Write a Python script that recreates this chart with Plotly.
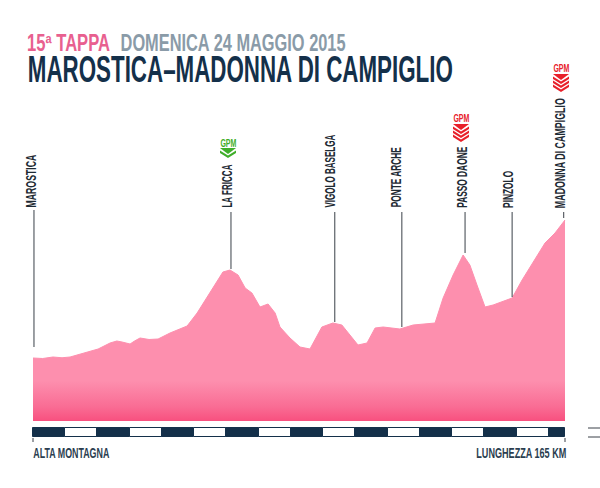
import json
import plotly.graph_objects as go

# Stage profile
km = [0, 3, 6.2, 9, 11.5, 15.5, 20.2, 23.9, 26, 27.6, 30.1, 31.5, 33.2, 36, 38.8, 42.5, 47.8, 50.9, 54, 57.1, 58.9, 61.1, 63.6,
      65.8, 67.9, 70.4, 72.9, 75.1, 76.6, 79.7, 82.8, 85.9, 87.5, 89.6, 93, 95.8, 98.3, 100.8, 103.6, 106.1,
      108.6, 113.8, 117.9, 124.7, 127.2, 130.3, 133.4, 135.5, 137.7, 140.2, 142.7, 148.6, 151.7, 155.1,
      158.8, 161.9, 164.4, 165]
elevation = [504, 500, 512, 506, 512, 544, 576, 624, 640, 632, 616, 640, 664, 652, 656, 704, 760, 864, 992, 1128, 1192, 1208, 1168,
             1064, 1024, 912, 936, 864, 752, 664, 592, 576, 648, 752, 784, 768, 688, 608, 624, 744,
             752, 736, 768, 784, 984, 1168, 1328, 1248, 1088, 912, 928, 984, 1128, 1272,
             1424, 1504, 1592, 1608]

# Named places
stops = ["MAROSTICA", "LA FRICCA", "VIGOLO BASELGA", "PONTE ARCHE", "PASSO DAONE", "PINZOLO", "MADONNA DI CAMPIGLIO"]
stop_km = [0.3, 61.4, 93.6, 114.4, 134.0, 148.6, 164.6]
stop_low = [592, 1216, 792, 752, 1344, 992, 1624]
stop_high = [1688, 1672, 1672, 1672, 1672, 1672, 1672]

# Distance scale
scale_mid = [5, 15, 25, 35, 45, 55, 65, 75, 85, 95, 105, 115, 125, 135, 145, 155, 162.5]
scale_len = [10] * 16 + [5]

W, H = 600, 488
NAVY = "#14304A"
def fx(p): return p / W
def fy(p): return 1 - p / H

fig = go.Figure()
fig.add_trace(go.Scatter(
    x=km, y=elevation, mode="lines", line=dict(color="#FD8FAE", width=1), fill="tozeroy",
    fillgradient=dict(type="vertical", start=0, stop=1608,
                      colorscale=[[0, "#F8507F"], [0.07, "#F96C94"], [0.2, "#FD8FAE"], [1, "#FD8FAE"]]),
    hoverinfo="skip", showlegend=False))

for k, lo, hi in zip(stop_km, stop_low, stop_high):
    fig.add_trace(go.Scatter(x=[k, k], y=[lo, hi], mode="lines", line=dict(color="#3A4148", width=1),
                             hoverinfo="skip", showlegend=False))
for k in [0, 165]:
    fig.add_trace(go.Scatter(x=[k, k], y=[-120, -168], mode="lines", line=dict(color="#3A4148", width=1),
                             hoverinfo="skip", showlegend=False))

fig.add_trace(go.Bar(
    x=scale_mid, y=[1] * len(scale_mid), width=scale_len, yaxis="y2",
    marker=dict(color=[NAVY if i % 2 == 0 else "#FFFFFF" for i in range(len(scale_mid))],
                line=dict(color=NAVY, width=1)),
    hoverinfo="skip", showlegend=False))

FONT = "Liberation Sans Narrow, Liberation Sans, sans-serif"
annots = []
fits = {}
def label(text, cx, cy, size, color, width, angle=0):
    annots.append(dict(text=f"<b>{text}</b>", x=fx(cx), y=fy(cy), xref="paper", yref="paper",
                       xanchor="center", yanchor="middle", showarrow=False, textangle=angle,
                       font=dict(family=FONT, size=size, color=color)))
    fits[text] = width

label("15ª TAPPA", 68.5, 43, 23, "#E8608F", 83)
label("DOMENICA 24 MAGGIO 2015", 232.5, 43, 23, "#8A9BA8", 225)
label("MAROSTICA–MADONNA DI CAMPIGLIO", 240.5, 69, 36, NAVY, 425)
label("ALTA MONTAGNA", 71, 452, 15, "#2B3E50", 76)
label("LUNGHEZZA 165 KM", 521, 452, 15, "#2B3E50", 90)
for name, cx, top, bottom in [("MAROSTICA", 31, 155, 208), ("LA FRICCA", 226, 165, 208),
                              ("VIGOLO BASELGA", 330, 135, 208), ("PONTE ARCHE", 396, 148, 208),
                              ("PASSO DAONE", 461, 147, 208), ("PINZOLO", 508, 171, 208),
                              ("MADONNA DI CAMPIGLIO", 560, 98, 208)]:
    label(name, cx, (top + bottom) / 2, 14, "#1E2A33", bottom - top, angle=-90)

shapes = []
def chevrons(cx, y, n, color, hw=8):
    pts = lambda L: "M " + " L ".join(f"{fx(a):.5f},{fy(b):.5f}" for a, b in L) + " Z"
    shapes.append(dict(type="path", xref="paper", yref="paper", fillcolor=color, line=dict(width=0),
                       path=pts([(cx - hw, y), (cx + hw, y), (cx, y + 6)])))
    for i in range(n):
        t = y + 4.5 + i * 4
        shapes.append(dict(type="path", xref="paper", yref="paper", fillcolor=color, line=dict(width=0),
                           path=pts([(cx - hw, t - 2), (cx, t + 3), (cx + hw, t - 2), (cx + hw, t + 0.5), (cx, t + 5.5), (cx - hw, t + 0.5)])))

label("GPM", 228, 143, 10, "#3FAE2A", 16)
chevrons(228, 148, 1, "#3FAE2A")
annots.append(dict(annots[-1], x=fx(461), y=fy(118), font=dict(family=FONT, size=10, color="#E8202A")))
chevrons(461, 124, 3, "#E8202A")
annots.append(dict(annots[-1], x=fx(561), y=fy(68), font=dict(family=FONT, size=10, color="#E8202A")))
chevrons(561, 74, 3, "#E8202A")

# stray marks at the right edge of the picture
for yy in (428, 437):
    shapes.append(dict(type="line", xref="paper", yref="paper", x0=fx(588), x1=fx(600), y0=fy(yy), y1=fy(yy),
                       line=dict(color="#3A4148", width=1)))

fig.update_layout(
    width=W, height=H, margin=dict(l=0, r=0, t=0, b=0), paper_bgcolor="white", plot_bgcolor="white",
    barmode="overlay", bargap=0, showlegend=False, annotations=annots, shapes=shapes,
    xaxis=dict(range=[-33 * 165 / 532, (600 - 33) * 165 / 532], visible=False, fixedrange=True),
    yaxis=dict(range=[(421 - 488) * 8, 421 * 8], visible=False, fixedrange=True),
    yaxis2=dict(domain=[(488 - 438) / 488, (488 - 427) / 488], range=[-0.1, 1.1], visible=False, fixedrange=True),
)

post = """
document.body.style.margin = '0';
var fits = %s;
document.querySelectorAll('.annotation-text').forEach(function (t) {
  var w = fits[t.textContent];
  if (!w) return;
  t.setAttribute('textLength', w);
  t.setAttribute('lengthAdjust', 'spacingAndGlyphs');
  var r = t.parentNode.querySelector('rect.bg');
  if (r) {
    var old = parseFloat(r.getAttribute('width'));
    var x0 = parseFloat(r.getAttribute('x')) || 0;
    r.setAttribute('x', x0 + (old - w) / 2);
    r.setAttribute('width', w);
  }
});
""" % json.dumps(fits, ensure_ascii=False)

fig.write_html("out.html", post_script=post, config={"displayModeBar": False})
